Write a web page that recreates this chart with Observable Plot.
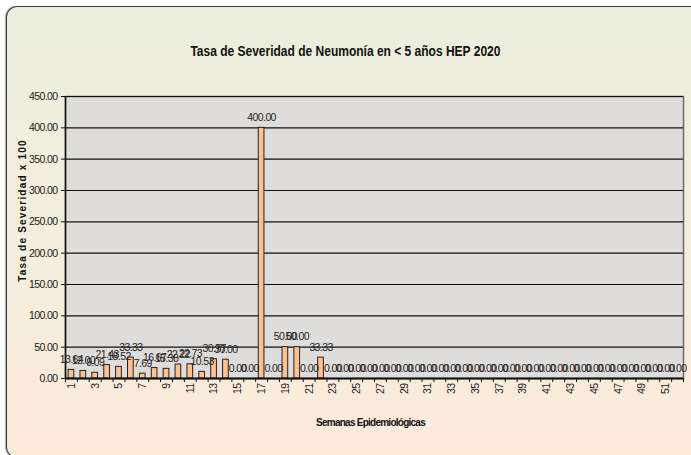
<!DOCTYPE html>
<html><head><meta charset="utf-8">
<script src="https://cdn.jsdelivr.net/npm/d3@7"></script>
<script src="https://cdn.jsdelivr.net/npm/@observablehq/plot@0.6"></script>
<style>
html,body{margin:0;padding:0;background:#fff;overflow:hidden;}
#wrap{position:relative;width:691px;height:455px;overflow:hidden;background:#fff;}
#frame{position:absolute;left:6px;top:6px;width:800px;height:452px;border:1.5px solid #3a3a3a;border-right:none;border-radius:11px 0 0 11px;box-sizing:border-box;background:linear-gradient(#EBEEDD,#F5EEDC 60%,#FCEAD9);box-shadow:-1px 0 1px #aaa;}
#title{position:absolute;top:42px;left:0;width:691px;text-align:center;font:bold 15px "Liberation Sans",Arial,sans-serif;color:#111;transform:scaleX(0.8);transform-origin:345px 0;}
#chart{position:absolute;left:0;top:0;}
</style></head>
<body>
<div id="wrap"><div id="frame"></div><div id="title"></div><div id="chart"></div></div>
<script>
const title = "Tasa de Severidad de Neumonía en < 5 años HEP 2020";
const yLabel = "Tasa de Severidad x 100";
const xLabel = "Semanas Epidemiológicas";
const weeks = [1,2,3,4,5,6,7,8,9,10,11,12,13,14,15,16,17,18,19,20,21,22,23,24,25,26,27,28,29,30,31,32,33,34,35,36,37,38,39,40,41,42,43,44,45,46,47,48,49,50,51,52];
const values = [13.64,12.00,9.09,21.43,18.52,33.33,7.69,16.67,15.38,22.22,22.73,10.53,30.77,30.00,0,0,400.00,0,50.00,50.00,0,33.33,
  0,0,0,0,0,0,0,0,0,0,0,0,0,0,0,0,0,0,0,0,0,0,0,0,0,0,0,0,0,0];
const yTicks = [0,50,100,150,200,250,300,350,400,450];
const xTickLabels = [1,3,5,7,9,11,13,15,17,19,21,23,25,27,29,31,33,35,37,39,41,43,45,47,49,51];

document.getElementById("title").textContent = title;
const data = weeks.map((w,i)=>({week:w, value:values[i]}));
const boundaries = weeks.map(w=>w-0.5).concat([weeks[weeks.length-1]+0.5]);
const font = '"Liberation Sans",Arial,sans-serif';

const chart = Plot.plot({
  width:691, height:455,
  marginLeft:65, marginRight:8, marginTop:96, marginBottom:77,
  style:{background:"transparent", fontFamily:font, fontSize:"10.5px", color:"#1a1a1a", overflow:"visible"},
  x:{type:"linear", domain:[0.5,52.5]},
  y:{domain:[0,450]},
  marks:[
    Plot.frame({fill:"#DFDDDB", stroke:"#6a6a6a", strokeWidth:1.5}),
    Plot.ruleY(yTicks.filter(v=>v>0), {stroke:"#111", strokeWidth:1.2}),
    Plot.rectY(data, {x1:d=>d.week-0.24, x2:d=>d.week+0.24, y:"value", fill:"#FFC08C", stroke:"#222", strokeWidth:1}),
    Plot.text(data, {x:"week", y:"value", text:d=>d.value.toFixed(2), lineAnchor:"bottom", dy:-7, fontSize:10.5, fill:"#222"}),
    Plot.axisY({ticks:yTicks, tickFormat:d=>d.toFixed(2), tickSize:4, tickPadding:4, label:null, fontSize:10.5, stroke:"#111"}),
    Plot.ruleX([0.5], {stroke:"#111", strokeWidth:1.5}),
    Plot.ruleY([0], {stroke:"#111", strokeWidth:2}),
    Plot.axisX({ticks:boundaries, tickFormat:()=>"", tickSize:4, label:null, stroke:"#111"}),
    Plot.axisX({ticks:xTickLabels, tickSize:0, tickPadding:5, tickRotate:-90, label:null, fontSize:10.5}),
    Plot.text([yLabel], {frameAnchor:"left", textAnchor:"middle", rotate:-90, dx:-43, dy:-27, fontWeight:"bold", fontSize:10, fill:"#111"}),
    Plot.text([xLabel], {frameAnchor:"bottom", dx:-4, dy:47, fontWeight:"bold", fontSize:10, fill:"#111"})
  ]
});
const svg = d3.select(chart);
svg.selectAll("text").style("letter-spacing","-0.6px");
svg.selectAll("text").filter(function(){return this.textContent===yLabel;}).style("letter-spacing","1.2px");
svg.selectAll("text").filter(function(){return this.textContent===xLabel;}).style("letter-spacing","-0.75px");
document.getElementById("chart").appendChild(chart);
</script>
</body></html>
